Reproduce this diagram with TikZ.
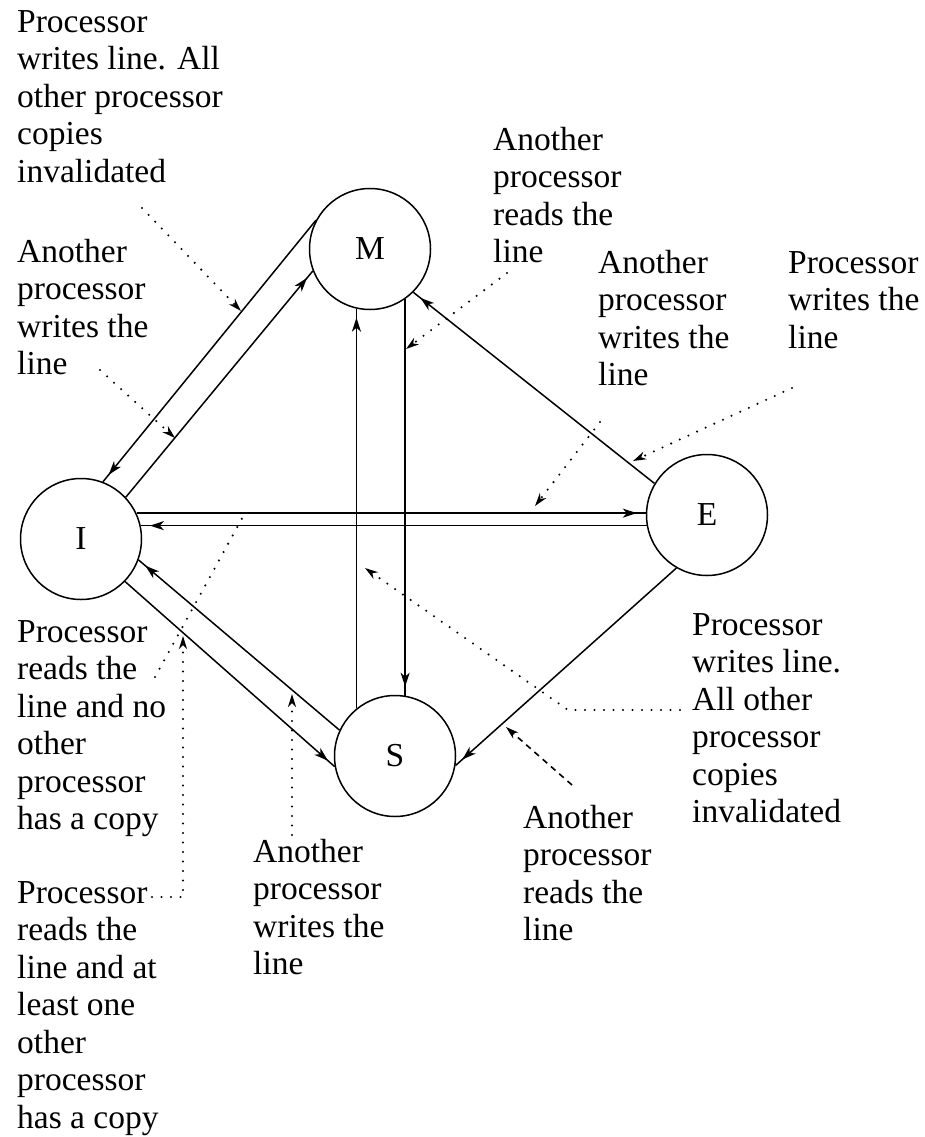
\documentclass[tikz,border=0pt]{standalone}
\usepackage{fontspec}
\setmainfont{Liberation Serif}
\usetikzlibrary{arrows.meta,decorations.markings}

\begin{document}
\begin{tikzpicture}[x=1pt,y=-1pt,
  every node/.style={font=\fontsize{33.5}{37.5}\selectfont},
  state/.style={draw, circle, line width=1.5pt, minimum size=121pt, inner sep=0pt},
  note/.style={anchor=north west, align=left, inner sep=0pt},
  wire/.style={line width=1.5pt},
  tipat/.style={postaction={decorate, decoration={markings,
      mark=at position -9pt with {\arrow{Stealth[length=14pt,width=9pt,inset=4pt]}}}}},
  dots/.style={line width=2.3pt, line cap=round, dash pattern=on 0pt off 9.5pt},
  lead/.style={dots, -{Stealth[length=13pt,width=8pt,inset=4pt]}},
  dashlead/.style={line width=1.6pt, dash pattern=on 6pt off 5pt,
      -{Stealth[length=13pt,width=8pt,inset=4pt]}}
]
\useasboundingbox (0,0) rectangle (924,1137);

% cache line states
\node[state] (M) at (370,249) {M};
\node[state] (I) at (81,539) {I};
\node[state] (E) at (707,515) {E};
\node[state] (S) at (395,756) {S};

% transitions
\draw[wire,tipat] (M.152) -- (I.69.5);
\draw[wire,tipat] (I.43) -- (M.201.6);
\draw[wire,tipat] (S.129.3) -- (S.129.3 |- M.257.5);
\draw[wire,tipat] (M.305.7) -- (M.305.7 |- S.80.4);
\draw[wire,tipat] (E.149.3) -- (M.315.6);
\draw[wire,tipat] (I.25.7) -- (I.25.7 -| E.178.1);
\draw[wire,tipat] (E.190.6) -- (E.190.6 -| I.12.5);
\draw[wire,tipat] (S.155.9) -- (I.340.4);
\draw[wire,tipat] (I.316.3) -- (S.190);
\draw[wire,tipat] (E.240.5) -- (S.351.5);

% event descriptions
\node[note] (t1) at (17,5.75) {\strut Processor\\writes line. All\\other processor\\copies\\invalidated};
\node[note] (t2) at (17,235.75) {\strut Another\\processor\\writes the\\line};
\node[note] (t3) at (493,123.75) {\strut Another\\processor\\reads the\\line};
\node[note] (t4) at (598,246.75) {\strut Another\\processor\\writes the\\line};
\node[note] (t5) at (788,246.75) {\strut Processor\\writes the\\line};
\node[note] (t6) at (17,615.75) {\strut Processor\\reads the\\line and no\\other\\processor\\has a copy};
\node[note] (t7) at (17,876.75) {\strut Processor\\reads the\\line and at\\least one\\other\\processor\\has a copy};
\node[note] (t8) at (253,835.75) {\strut Another\\processor\\writes the\\line};
\node[note] (t9) at (523,801.75) {\strut Another\\processor\\reads the\\line};
\node[note] (t10) at (692,608.75) {\strut Processor\\writes line.\\All other\\processor\\copies\\invalidated};

% leader end points
\coordinate (a1) at (142,208);  \coordinate (a2) at (241,311);
\coordinate (b1) at (100,370);  \coordinate (b2) at (175,438);
\coordinate (c1) at (507,273);  \coordinate (c2) at (406,349);
\coordinate (d1) at (600,422);  \coordinate (d2) at (535,506);
\coordinate (e1) at (792,388);  \coordinate (e2) at (633,461);
\coordinate (f1) at (155,677);  \coordinate (f2) at (245,513);
\coordinate (g1) at (152,897);  \coordinate (g2) at (183,897);  \coordinate (g3) at (183,636);
\coordinate (h1) at (292,835);  \coordinate (h2) at (292,694);
\coordinate (i1) at (680,710);  \coordinate (i2) at (568,710);  \coordinate (i3) at (365,568);
\coordinate (j1) at (572,785);  \coordinate (j2) at (506,727);

% leaders from descriptions to transitions
\draw[lead] (a1) -- (a2);
\draw[lead] (b1) -- (b2);
\draw[lead] (c1) -- (c2);
\draw[lead] (d1) -- (d2);
\draw[lead] (e1) -- (e2);
\draw[dots] (f1) -- (f2);
\draw[lead] (g1) -- (g2) -- (g3);
\draw[lead] (h1) -- (h2);
\draw[lead] (i1) -- (i2) -- (i3);
\draw[dashlead] (j1) -- (j2);
\end{tikzpicture}
\end{document}
